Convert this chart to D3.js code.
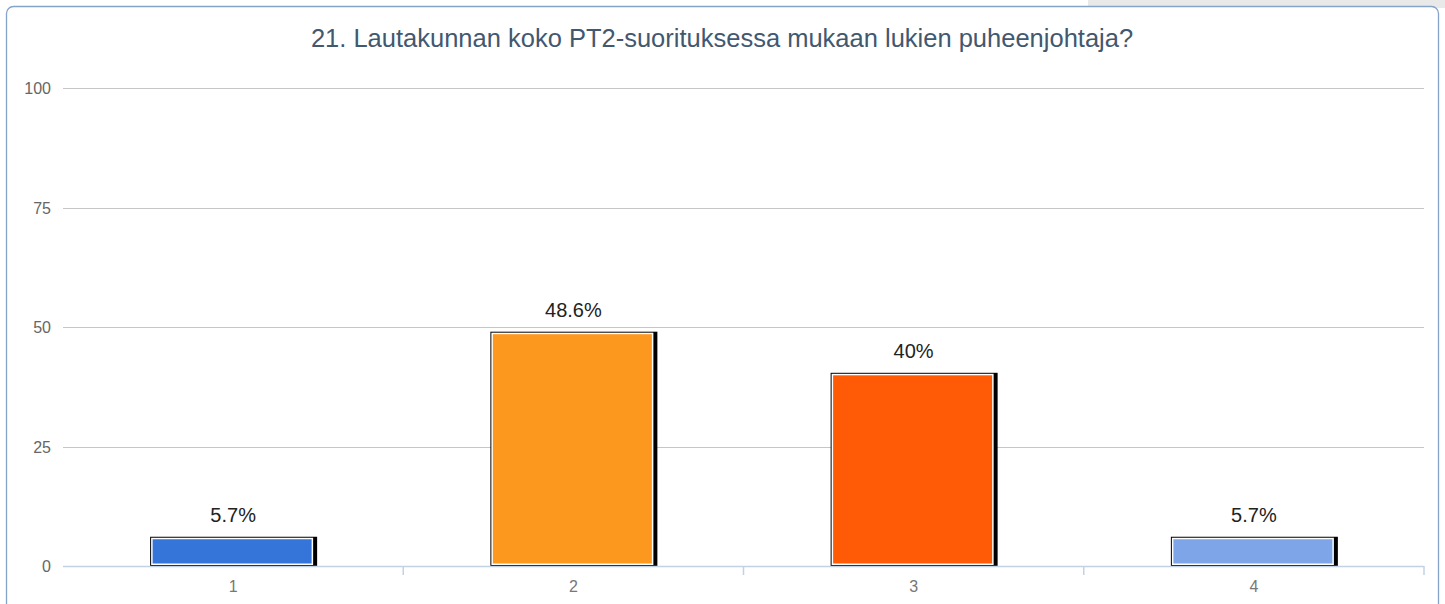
<!DOCTYPE html>
<html>
<head>
<meta charset="utf-8">
<script src="https://cdn.jsdelivr.net/npm/d3@7"></script>
<style>
  body { margin: 0; background: #fff; }
  svg { display: block; font-family: "Liberation Sans", Arial, sans-serif; }
</style>
</head>
<body>
<div id="chart"></div>
<script>
const title = "21. Lautakunnan koko PT2-suorituksessa mukaan lukien puheenjohtaja?";
const categories = ["1", "2", "3", "4"];
const values = [5.7, 48.6, 40, 5.7];
const labels = ["5.7%", "48.6%", "40%", "5.7%"];
const colors = ["#3574d9", "#fd981f", "#ff5a06", "#7ea5e8"];
const yTicks = [0, 25, 50, 75, 100];

const W = 1445, H = 604;
const svg = d3.select("#chart").append("svg").attr("width", W).attr("height", H);

// grey strip top right + rounded frame
svg.append("rect").attr("x", 1088).attr("y", 0).attr("width", W - 1088).attr("height", 8).attr("fill", "#e9e9e9");
svg.append("rect")
    .attr("x", 6.5).attr("y", 6.5).attr("width", 1432).attr("height", 640)
    .attr("rx", 7).attr("fill", "#fff").attr("stroke", "#86a3c9").attr("stroke-width", 1.3);

svg.append("text")
    .attr("x", 722).attr("y", 47)
    .attr("text-anchor", "middle")
    .attr("fill", "#42586f")
    .style("font-size", "25.5px")
    .text(title);

const x = d3.scaleBand().domain(categories).range([63, 1424]);
const y = d3.scaleLinear().domain([0, 100]).range([566, 88]);

// gridlines
svg.append("g").selectAll("line")
    .data(yTicks.filter(t => t > 0))
    .join("line")
    .attr("x1", 63).attr("x2", 1424)
    .attr("y1", d => Math.round(y(d)) + 0.5).attr("y2", d => Math.round(y(d)) + 0.5)
    .attr("stroke", "#c6c6c6").attr("stroke-width", 1.2);

svg.append("g").selectAll("text")
    .data(yTicks)
    .join("text")
    .attr("x", 51).attr("y", d => y(d) + 6)
    .attr("text-anchor", "end")
    .attr("fill", "#666")
    .style("font-size", "16px")
    .text(d => d);

// bars
const bw = 162;
const bars = svg.append("g").selectAll("g")
    .data(values)
    .join("g")
    .attr("transform", (d, i) => `translate(${x(categories[i]) + x.bandwidth() / 2 - bw / 2 - 1},0)`);

bars.append("rect") // black outline + shadow
    .attr("x", -1).attr("y", d => y(d) - 2)
    .attr("width", bw + 5).attr("height", d => y(0) - y(d) + 2)
    .attr("fill", "#000");
bars.append("rect")
    .attr("x", 0).attr("y", d => y(d) - 1)
    .attr("width", bw).attr("height", d => y(0) - y(d))
    .attr("fill", "#fff");
bars.append("rect")
    .attr("x", 1.5).attr("y", d => y(d) + 0.5)
    .attr("width", bw - 3).attr("height", d => Math.max(0, y(0) - y(d) - 3))
    .attr("fill", (d, i) => colors[i]);

bars.append("text")
    .attr("x", bw / 2 + 1).attr("y", d => y(d) - 17)
    .attr("text-anchor", "middle")
    .attr("fill", "#222")
    .style("font-size", "20px")
    .text((d, i) => labels[i]);

// baseline + category ticks
svg.append("line")
    .attr("x1", 63).attr("x2", 1424).attr("y1", 566.5).attr("y2", 566.5)
    .attr("stroke", "#c2d2e4").attr("stroke-width", 1.5);
svg.append("g").selectAll("line")
    .data(categories.slice(1).concat(["end"]))
    .join("line")
    .attr("x1", (d, i) => i < 3 ? x(d) : 1424).attr("x2", (d, i) => i < 3 ? x(d) : 1424)
    .attr("y1", 566).attr("y2", 575)
    .attr("stroke", "#c2d2e4").attr("stroke-width", 1.5);

svg.append("g").selectAll("text")
    .data(categories)
    .join("text")
    .attr("x", d => x(d) + x.bandwidth() / 2)
    .attr("y", 592)
    .attr("text-anchor", "middle")
    .attr("fill", "#777")
    .style("font-size", "16px")
    .text(d => d);
</script>
</body>
</html>
